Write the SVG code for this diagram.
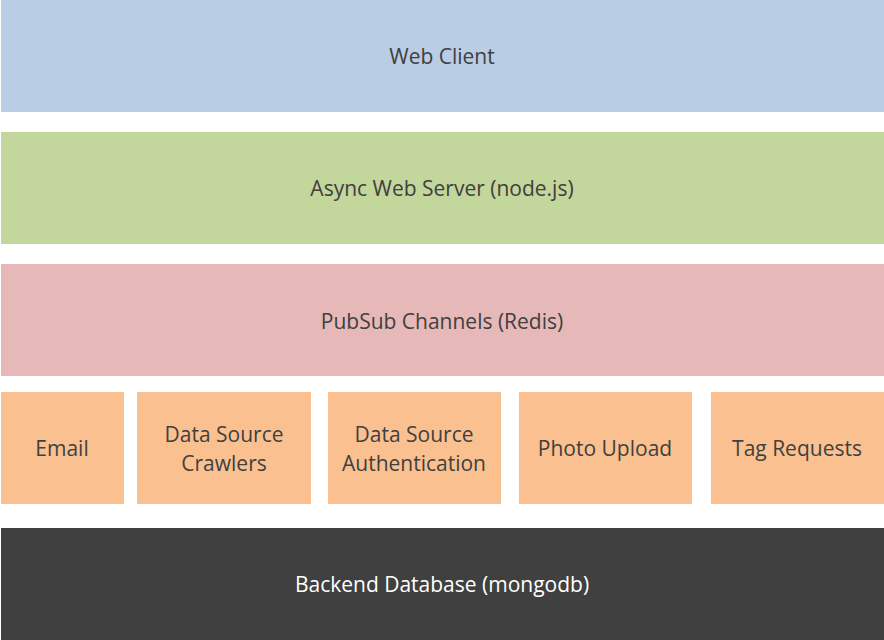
<svg xmlns="http://www.w3.org/2000/svg" width="884" height="640" viewBox="0 0 884 640">
<style>
text{font-family:"Open Sans","Noto Sans","Liberation Sans",sans-serif;font-size:21px;fill:#404040;text-anchor:middle;dominant-baseline:central}
.w{fill:#ffffff}
</style>
<rect width="884" height="640" fill="#ffffff"/>
<g id="web-client"><rect x="1" y="0" width="883" height="112" fill="#B9CDE5"/><text x="442" y="56">Web Client</text></g>
<g id="web-server"><rect x="1" y="132" width="883" height="112" fill="#C3D69B"/><text x="442" y="188">Async Web Server (node.js)</text></g>
<g id="pubsub"><rect x="1" y="264" width="883" height="112" fill="#E6B9B8"/><text x="442" y="321">PubSub Channels (Redis)</text></g>
<g id="email"><rect x="1" y="392" width="123" height="112" fill="#FAC090"/><text x="62" y="448">Email</text></g>
<g id="crawlers"><rect x="137" y="392" width="174" height="112" fill="#FAC090"/><text x="224" y="434">Data Source</text><text x="224" y="463">Crawlers</text></g>
<g id="auth"><rect x="328" y="392" width="173" height="112" fill="#FAC090"/><text x="414" y="434">Data Source</text><text x="414" y="463">Authentication</text></g>
<g id="photo"><rect x="519" y="392" width="173" height="112" fill="#FAC090"/><text x="605" y="448">Photo Upload</text></g>
<g id="tag"><rect x="711" y="392" width="173" height="112" fill="#FAC090"/><text x="797" y="448">Tag Requests</text></g>
<g id="database"><rect x="1" y="528" width="883" height="112" fill="#404040"/><text class="w" x="442" y="584">Backend Database (mongodb)</text></g>
<g id="connectors"/>
</svg>
